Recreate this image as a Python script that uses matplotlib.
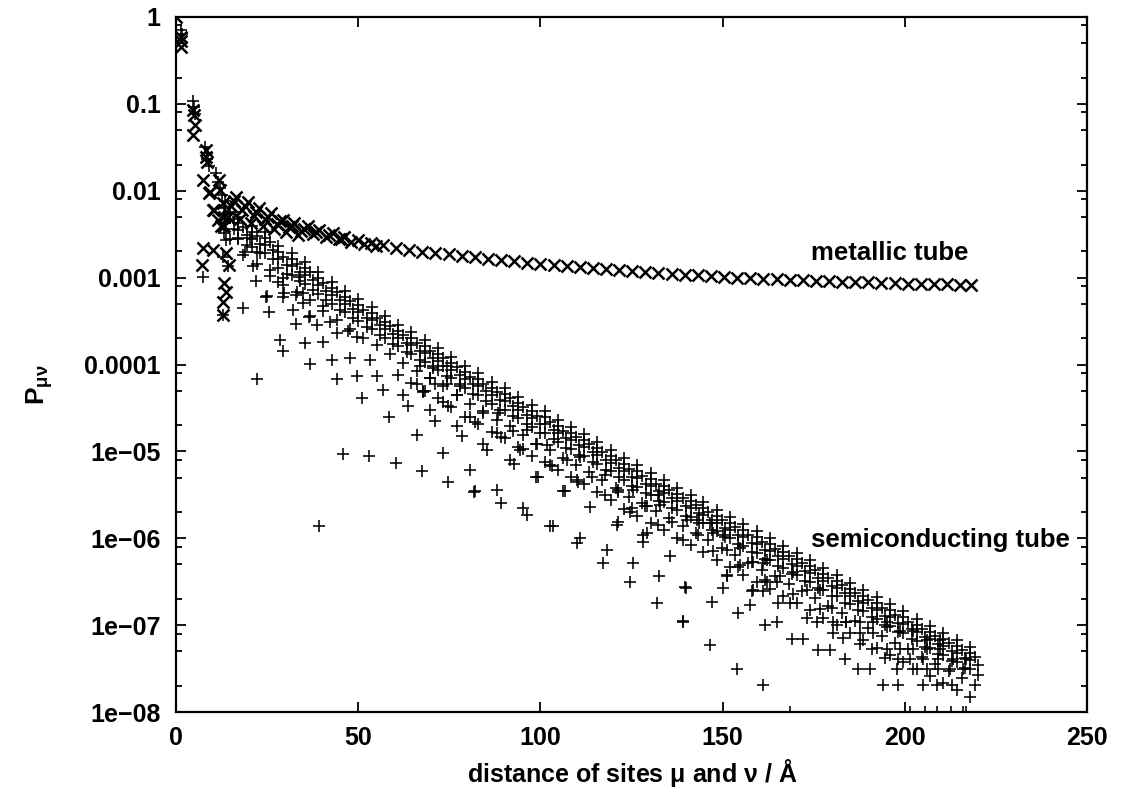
import numpy as np
import matplotlib
matplotlib.use("Agg")
import matplotlib.pyplot as plt
from matplotlib.ticker import FixedLocator, FixedFormatter, LogLocator, NullFormatter

plt.rcParams['font.family'] = ['Liberation Sans', 'DejaVu Sans']
plt.rcParams['font.weight'] = 'bold'
plt.rcParams['mathtext.fontset'] = 'custom'
plt.rcParams['mathtext.rm'] = 'Liberation Sans'
plt.rcParams['mathtext.it'] = 'Liberation Sans'
plt.rcParams['mathtext.bf'] = 'Liberation Sans:bold'

# ---------------- data (log10 of P) ----------------
# semiconducting tube: ring positions and the spike tops
ring_x = [13.5, 17.1, 20.8, 24.4, 28.1, 31.7, 35.4, 39.0, 42.7, 46.4,
          50.0, 53.7, 57.3, 61.0, 64.6, 68.3, 72.0, 75.6, 79.3, 82.9,
          86.6, 90.3, 93.9, 97.6, 101.3, 104.7, 108.3, 112.0, 115.6, 119.3,
          122.9, 126.6, 130.3, 133.9, 137.6, 141.2, 144.7, 148.4, 152.0, 155.7,
          159.4, 163.0, 166.7, 170.3, 174.0, 177.6, 181.3, 184.9, 188.6, 192.3,
          195.9, 199.6, 203.3, 206.9, 210.6, 214.2, 217.9]
ring_xb = [14.9, 18.5, 22.2, 25.8, 29.5, 33.1, 36.8, 40.4, 44.1, 47.8,
           51.4, 55.1, 58.7, 62.4, 66.0, 69.7, 73.4, 77.0, 80.7, 84.3,
           88.0, 91.7, 95.3, 99.0, 102.7, 106.1, 109.7, 113.4, 117.0, 120.7,
           124.3, 128.0, 131.7, 135.3, 139.0, 142.6, 146.1, 149.8, 153.4, 157.1,
           160.8, 164.4, 168.1, 171.7, 175.4, 179.0, 182.7, 186.3, 190.0, 193.7,
           197.3, 201.0, 204.7, 208.3, 212.0, 215.6, 219.3]
ring_xc = [15.8, 19.4, 23.1, 26.7, 30.4, 34.0, 37.7, 41.3, 45.0, 48.7,
           52.3, 56.0, 59.6, 63.3, 66.9, 70.6, 74.3, 77.9, 81.6, 85.2,
           88.9, 92.6, 96.2, 99.9, 103.6, 107.0, 110.6, 114.3, 117.9, 121.6,
           125.2, 128.9, 132.6, 136.2, 139.9, 143.5, 147.0, 150.7, 154.3, 158.0,
           161.7, 165.3, 169.0, 172.6, 176.3, 179.9, 183.6, 187.2, 190.9, 194.6,
           198.2, 201.9, 205.6, 209.2, 212.9, 216.5, 220.2]

semi_top = [-2.12, -2.30, -2.40, -2.47, -2.64, -2.72, -2.82, -2.94, -3.05, -3.15,
            -3.25, -3.34, -3.44, -3.54, -3.63, -3.72, -3.81, -3.91, -4.02, -4.10,
            -4.20, -4.27, -4.37, -4.47, -4.54, -4.64, -4.72, -4.80, -4.89, -4.98,
            -5.08, -5.16, -5.25, -5.33, -5.42, -5.50, -5.58, -5.67, -5.75, -5.84,
            -5.92, -6.00, -6.09, -6.17, -6.25, -6.34, -6.42, -6.51, -6.59, -6.68,
            -6.76, -6.84, -6.93, -7.01, -7.09, -7.17, -7.25]
semi_stack1 = [-2.19, -2.37, -2.47, -2.54, -2.71, -2.79, -2.89, -3.01, -3.12, -3.22,
               -3.32, -3.41, -3.51, -3.61, -3.70, -3.79, -3.88, -3.98, -4.09, -4.17,
               -4.27, -4.34, -4.44, -4.54, -4.61, -4.71, -4.79, -4.87, -4.96, -5.05,
               -5.15, -5.23, -5.32, -5.40, -5.49, -5.57, -5.65, -5.74, -5.82, -5.91,
               -5.99, -6.07, -6.16, -6.24, -6.32, -6.41, -6.49, -6.58, -6.66, -6.75,
               -6.83, -6.91, -7.00, -7.08, -7.16, -7.24, -7.32]
semi_stack2 = [-2.27, -2.45, -2.55, -2.62, -2.79, -2.87, -2.97, -3.09, -3.20, -3.30,
               -3.40, -3.49, -3.59, -3.69, -3.78, -3.87, -3.96, -4.06, -4.17, -4.25,
               -4.35, -4.42, -4.52, -4.62, -4.69, -4.79, -4.87, -4.95, -5.04, -5.13,
               -5.23, -5.31, -5.40, -5.48, -5.57, -5.65, -5.73, -5.82, -5.90, -5.99,
               -6.07, -6.15, -6.24, -6.32, -6.40, -6.49, -6.57, -6.66, -6.74, -6.83,
               -6.91, -6.99, -7.08, -7.16, -7.24, -7.32, -7.40]
semi_stack3 = [-2.37, -2.55, -2.65, -2.72, -2.89, -2.97, -3.07, -3.19, -3.30, -3.40,
               -3.50, -3.59, -3.69, -3.79, -3.88, -3.97, -4.06, -4.16, -4.27, -4.35,
               -4.45, -4.52, -4.62, -4.72, -4.79, -4.89, -4.97, -5.05, -5.14, -5.23,
               -5.33, -5.41, -5.50, -5.58, -5.67, -5.75, -5.83, -5.92, -6.00, -6.09,
               -6.17, -6.25, -6.34, -6.42, -6.50, -6.59, -6.67, -6.76, -6.84, -6.93,
               -7.01, -7.09, -7.18, -7.26, -7.34, -7.42, -7.50]
semi_b1 = [-2.24, -2.42, -2.52, -2.59, -2.76, -2.84, -2.94, -3.06, -3.17, -3.27,
           -3.37, -3.46, -3.56, -3.66, -3.75, -3.84, -3.93, -4.03, -4.14, -4.22,
           -4.32, -4.39, -4.49, -4.59, -4.66, -4.76, -4.84, -4.92, -5.01, -5.10,
           -5.20, -5.28, -5.37, -5.45, -5.54, -5.62, -5.70, -5.79, -5.87, -5.96,
           -6.04, -6.12, -6.21, -6.29, -6.37, -6.46, -6.54, -6.63, -6.71, -6.80,
           -6.88, -6.96, -7.05, -7.13, -7.21, -7.29, -7.37]
semi_d = [-2.56, -2.74, -2.84, -2.91, -3.08, -3.16, -3.26, -3.38, -3.49, -3.59,
          -3.69, -3.78, -3.88, -3.98, -4.07, -4.16, -4.25, -4.35, -4.46, -4.54,
          -4.64, -4.71, -4.81, -4.91, -4.98, -5.08, -5.16, -5.24, -5.33, -5.42,
          -5.52, -5.60, -5.69, -5.77, -5.86, -5.94, -6.02, -6.11, -6.19, -6.28,
          -6.36, -6.44, -6.53, -6.61, -6.69, -6.78, -6.86, -6.95, -7.03, -7.12,
          -7.20, -7.28, -7.37, -7.45, -7.53, -7.61, -7.69]
semi_b2 = [-2.33, -2.51, -2.61, -2.68, -2.85, -2.93, -3.03, -3.15, -3.26, -3.36,
           -3.46, -3.55, -3.65, -3.75, -3.84, -3.93, -4.02, -4.12, -4.23, -4.31,
           -4.41, -4.48, -4.58, -4.68, -4.75, -4.85, -4.93, -5.01, -5.10, -5.19,
           -5.29, -5.37, -5.46, -5.54, -5.63, -5.71, -5.79, -5.88, -5.96, -6.05,
           -6.13, -6.21, -6.30, -6.38, -6.46, -6.55, -6.63, -6.72, -6.80, -6.89,
           -6.97, -7.05, -7.14, -7.22, -7.30, -7.38, -7.46]
semi_c = [-2.44, -2.62, -2.72, -2.79, -2.96, -3.04, -3.14, -3.26, -3.37, -3.47,
          -3.57, -3.66, -3.76, -3.86, -3.95, -4.04, -4.13, -4.23, -4.34, -4.42,
          -4.52, -4.59, -4.69, -4.79, -4.86, -4.96, -5.04, -5.12, -5.21, -5.30,
          -5.40, -5.48, -5.57, -5.65, -5.74, -5.82, -5.90, -5.99, -6.07, -6.16,
          -6.24, -6.32, -6.41, -6.49, -6.57, -6.66, -6.74, -6.83, -6.91, -7.00,
          -7.08, -7.16, -7.25, -7.33, -7.41, -7.49, -7.57]
# deeper row, present from the ring at 61 onwards
semi_e = [-4.12, -4.21, -4.30, -4.39, -4.49, -4.60, -4.68, -4.78, -4.85, -4.95,
          -5.05, -5.12, -5.22, -5.30, -5.38, -5.47, -5.56, -5.66, -5.74, -5.83,
          -5.91, -6.00, -6.08, -6.16, -6.25, -6.33, -6.42, -6.50, -6.58, -6.67,
          -6.75, -6.83, -6.92, -7.00, -7.09, -7.17, -7.26, -7.34, -7.42, -7.51,
          -7.59, -7.67, -7.75, -7.83]

semi_early_x = [0.0, 1.3, 1.6, 4.6, 4.9, 5.2, 7.9, 8.4, 8.6, 9.0, 10.9, 11.6, 12.2,
                12.6, 13.1, 7.3, 12.8, 13.3, 13.7, 12.8, 14.2]
semi_early_logp = [0.0, -0.15, -0.20, -0.97, -1.04, -1.12, -1.50, -1.56, -1.63, -1.72,
                   -1.80, -1.90, -1.97, -2.05, -2.20, -2.99, -3.43, -2.49, -2.57, -2.76, -2.87]

semi_low_a_x = [17.1, 20.3, 18.9, 22.3, 21.2, 25.8, 22.0, 24.9, 29.4, 28.1,
                32.9, 34.9, 29.4, 36.8, 32.9, 25.6, 18.3, 40.4, 42.3, 38.6,
                35.4, 28.5, 29.4, 40.4, 44.1, 47.3, 49.6, 42.7, 47.7, 53.2,
                36.8, 44.1, 49.6, 51.0, 55.1, 56.9, 58.5, 62.4, 63.7, 66.1,
                69.7, 71.1, 77.0, 78.4, 73.4, 22.1, 45.9, 53.0, 60.4, 67.4,
                74.7, 73.4, 39.3, 66.0, 67.9, 74.7, 67.0, 70.6, 69.7, 71.1,
                67.9, 73.4, 74.3, 77.9, 77.0, 33.8, 34.8, 36.6, 32.0, 29.7, 24.7]
semi_low_a_logp = [-2.54, -2.54, -2.70, -2.71, -2.87, -2.98, -3.04, -3.21, -3.01, -3.05,
                   -3.20, -3.29, -3.22, -3.44, -3.53, -3.39, -3.35, -3.33, -3.51, -3.54,
                   -3.75, -3.72, -3.85, -3.74, -3.64, -3.62, -3.68, -3.95, -3.93, -3.95,
                   -3.99, -4.17, -4.13, -4.39, -4.13, -4.29, -4.60, -4.35, -4.48, -4.81,
                   -4.52, -4.65, -4.71, -4.82, -4.43, -4.17, -5.03, -5.05, -5.13, -5.23,
                   -5.35, -5.02, -5.86, -4.22, -4.32, -4.48, -4.02, -4.02, -4.16, -4.23,
                   -4.31, -4.02, -4.22, -4.25, -4.35, -2.99, -3.18, -3.45, -3.37, -3.18, -3.22]

semi_low_b_x = [80.7, 81.8, 84.3, 85.4, 88.0, 89.1, 88.0, 89.1, 91.7, 92.8,
                95.3, 96.4, 95.3, 99.4, 102.6, 103.5, 102.6, 106.3, 110.0, 110.9,
                110.0, 113.6, 117.3, 118.2, 117.7, 120.9, 124.6, 125.3, 125.1, 128.7,
                128.2, 131.9, 132.6, 132.4, 135.6, 136.0, 139.2, 139.9, 139.2, 140.1,
                80.7, 82.1, 84.3, 88.4, 92.6, 94.4, 96.2, 98.9, 98.9, 101.7,
                103.1, 107.2, 110.9, 106.7, 110.4, 114.1, 117.7, 121.4, 125.5, 121.4,
                129.2, 132.8, 129.2, 121.3, 132.3, 124.6, 128.2, 143.0, 146.5, 143.3,
                147.4, 150.1, 147.4, 151.2, 154.8, 151.2, 154.8, 158.3, 162.2, 158.3,
                161.6, 165.7, 169.3, 82.1]
semi_low_b_logp = [-5.22, -5.47, -4.91, -4.98, -5.44, -5.60, -4.79, -4.84, -5.10, -5.14,
                   -5.65, -5.73, -4.97, -5.29, -5.86, -5.86, -5.16, -5.46, -6.06, -6.00,
                   -5.33, -5.64, -6.29, -6.14, -5.50, -5.85, -6.50, -6.28, -5.65, -5.63,
                   -5.96, -6.74, -6.43, -5.85, -6.21, -5.81, -6.95, -6.57, -6.02, -5.79,
                   -4.60, -4.66, -4.56, -4.56, -4.77, -4.98, -4.75, -5.29, -4.91, -4.93,
                   -5.17, -5.10, -5.06, -5.46, -5.35, -5.29, -5.27, -5.44, -5.44, -5.81,
                   -5.63, -5.62, -5.94, -5.47, -5.50, -5.70, -6.04, -5.79, -5.82, -5.96,
                   -5.94, -5.96, -6.15, -6.13, -6.11, -6.44, -6.31, -6.27, -6.25, -6.59,
                   -6.48, -6.44, -6.39, -5.46]

semi_low_c_x = [146.5, 153.9, 161.2, 139.2, 139.7, 147.0, 150.2, 154.3, 157.5, 161.6,
                164.8, 169.0, 172.2, 176.3, 179.5, 183.6, 187.2, 190.4, 194.1, 198.2,
                205.1, 208.8, 212.9, 151.1, 154.3, 158.0, 161.2, 165.3, 168.5, 158.0,
                161.2, 162.1, 164.8, 169.4, 173.1, 176.8, 173.1, 175.8, 180.4, 183.1,
                187.7, 190.9, 195.0, 198.7, 202.3, 206.0, 209.7, 213.3, 216.9, 198.2,
                201.4, 205.1, 209.2, 197.8, 202.3, 206.0, 209.2, 212.4, 216.1, 187.7,
                191.4, 195.0, 180.4, 184.0, 176.7, 180.0, 194.6, 184.0, 187.7, 191.4,
                195.0, 198.7, 202.3, 206.0, 209.7, 168.5, 201.4, 205.5, 208.8, 212.6,
                216.1, 216.9]
semi_low_c_logp = [-7.23, -7.51, -7.69, -6.96, -6.56, -6.73, -6.57, -6.86, -6.77, -7.00,
                   -6.96, -7.16, -7.16, -7.29, -7.29, -7.39, -7.51, -7.51, -7.69, -7.69,
                   -7.69, -7.69, -7.69, -6.42, -6.33, -6.27, -6.29, -6.74, -6.74, -6.61,
                   -6.61, -6.50, -6.50, -6.64, -6.60, -6.60, -6.92, -6.96, -7.09, -7.15,
                   -7.22, -7.28, -7.28, -7.28, -7.28, -7.28, -7.28, -7.39, -7.39, -7.39,
                   -7.39, -7.39, -7.39, -7.51, -7.51, -7.51, -7.51, -7.51, -7.51, -7.09,
                   -7.09, -7.02, -6.96, -6.96, -6.82, -6.80, -7.38, -6.96, -6.96, -6.96,
                   -6.96, -7.07, -7.07, -7.17, -7.17, -8.00, -8.00, -8.00, -8.00, -8.00,
                   -8.00, -8.00]

# metallic tube
met_early_x = [0.0, 1.3, 1.4, 1.3, 4.8, 5.0, 5.2, 4.8, 8.1, 8.3,
               8.5, 7.5, 9.2, 10.1, 11.9, 12.0, 12.8, 13.3, 13.3, 7.5,
               7.0, 10.2, 13.3, 13.6, 12.8, 12.8, 14.6, 13.7, 9.1, 10.5, 11.4, 12.3]
met_early_logp = [0.0, -0.23, -0.28, -0.34, -1.07, -1.13, -1.24, -1.36, -1.53, -1.61,
                  -1.67, -1.88, -2.01, -2.22, -1.88, -1.99, -2.14, -2.30, -2.41, -2.66,
                  -2.85, -2.68, -3.06, -3.16, -3.28, -3.43, -2.85, -2.72, -2.03, -2.22,
                  -2.34, -2.41]
met_chain_x = [16.5, 19.7, 22.9, 26.1, 29.3, 32.5, 36.1, 39.3, 43.0, 46.2,
               49.9, 53.5, 56.7, 60.4, 64.0, 67.6, 71.2, 74.8, 78.4, 82.0,
               85.6, 89.2, 92.8, 96.4, 100.0, 103.6, 107.2, 110.8, 114.4, 118.0,
               121.6, 125.2, 128.8, 132.4, 136.0, 139.6, 143.2, 146.8, 150.4, 154.0,
               157.6, 161.2, 164.8, 168.4, 172.0, 175.6, 179.2, 182.8, 186.4, 190.0,
               193.6, 197.2, 200.8, 204.4, 208.0, 211.6, 215.2, 218.2]
met_chain_logp = [-2.07, -2.13, -2.20, -2.26, -2.34, -2.37, -2.41, -2.45, -2.49, -2.53,
                  -2.57, -2.60, -2.62, -2.66, -2.68, -2.70, -2.72, -2.73, -2.75, -2.76,
                  -2.78, -2.80, -2.81, -2.83, -2.84, -2.86, -2.87, -2.88, -2.89, -2.90,
                  -2.915, -2.925, -2.935, -2.945, -2.955, -2.965, -2.975, -2.985, -2.995, -3.00,
                  -3.01, -3.015, -3.02, -3.025, -3.03, -3.035, -3.04, -3.045, -3.05, -3.055,
                  -3.06, -3.065, -3.07, -3.072, -3.075, -3.078, -3.08, -3.084]
met_band_x = [15.0, 18.1, 21.3, 24.5, 27.7, 30.9, 34.3, 37.7, 41.1, 44.6, 48.0,
              14.2, 17.5, 20.6, 23.8, 27.0, 30.2, 33.5,
              16.0, 19.0, 22.0, 25.2, 28.5, 31.8, 35.2, 38.5, 42.0, 45.4, 51.5, 55.0]
met_band_logp = [-2.17, -2.22, -2.29, -2.33, -2.38, -2.42, -2.46, -2.50, -2.53, -2.56, -2.59,
                 -2.30, -2.33, -2.37, -2.41, -2.44, -2.48, -2.51,
                 -2.12, -2.18, -2.24, -2.30, -2.35, -2.40, -2.44, -2.47, -2.51, -2.55,
                 -2.61, -2.64]

y_major = [1e-8, 1e-7, 1e-6, 1e-5, 1e-4, 1e-3, 1e-2, 1e-1, 1]
y_labels = ['1e\u221208', '1e\u221207', '1e\u221206', '1e\u221205', '0.0001',
            '0.001', '0.01', '0.1', '1']
x_major = [0, 50, 100, 150, 200, 250]

# ---------------- figure ----------------
W, H = 1125, 794
fig = plt.figure(figsize=(W / 100, H / 100), dpi=100)
ax = fig.add_axes([176 / W, 1 - 712 / H, (1087 - 176) / W, (712 - 17) / H])

plus_kw = dict(ls='none', marker='+', ms=8, mew=1.15, color='black')
x_kw = dict(ls='none', marker='x', ms=9, mew=1.8, color='black')


def draw(xs, logp, kw):
    xs = np.asarray(xs, dtype=float)
    lp = np.asarray(logp, dtype=float)
    assert xs.shape == lp.shape, (xs.shape, lp.shape)
    ax.plot(xs, np.power(10.0, lp), **kw)


# semiconducting (+)
for xs, lp in [(ring_x, semi_top), (ring_x, semi_stack1), (ring_x, semi_stack2),
               (ring_x, semi_stack3), (ring_xb, semi_b1), (ring_xb, semi_d),
               (ring_xc, semi_b2), (ring_xc, semi_c), (ring_x[13:], semi_e),
               (semi_early_x, semi_early_logp), (semi_low_a_x, semi_low_a_logp),
               (semi_low_b_x, semi_low_b_logp), (semi_low_c_x, semi_low_c_logp)]:
    draw(xs, lp, plus_kw)

# metallic (x)
for xs, lp in [(met_early_x, met_early_logp), (met_chain_x, met_chain_logp),
               (met_band_x, met_band_logp)]:
    draw(xs, lp, x_kw)

ax.set_yscale('log')
ax.set_xlim(0, 250)
ax.set_ylim(1e-8, 1)
ax.yaxis.set_major_locator(FixedLocator(y_major))
ax.yaxis.set_major_formatter(FixedFormatter(y_labels))
ax.yaxis.set_minor_locator(LogLocator(base=10, subs=(2.0, 5.0, 8.0), numticks=20))
ax.yaxis.set_minor_formatter(NullFormatter())
ax.xaxis.set_major_locator(FixedLocator(x_major))
ax.set_xticklabels([str(v) for v in x_major])

ax.tick_params(which='both', direction='in', top=True, right=True, width=1.3,
               labelsize=18, colors='black')
ax.tick_params(which='major', length=7)
ax.tick_params(which='minor', length=4)
ax.tick_params(axis='y', pad=11)
ax.tick_params(axis='x', pad=10)
for lab in ax.get_xticklabels() + ax.get_yticklabels():
    lab.set_fontweight('bold')
for sp in ax.spines.values():
    sp.set_linewidth(1.6)

ax.text(217.5, 10 ** -2.72, 'metallic tube', ha='right', va='center',
        fontsize=18.5, fontweight='bold')
ax.text(245.3, 10 ** -6.02, 'semiconducting tube', ha='right', va='center',
        fontsize=18.5, fontweight='bold')

fig.text(632 / W, 1 - 773 / H, 'distance of sites $\\mu$ and $\\nu$ / \u00c5',
         ha='center', va='center', fontsize=18, fontweight='bold')
fig.text(40 / W, 1 - 385 / H, '$\\mathbf{P}_{\\mu\\nu}$', ha='center', va='center',
         rotation=90, fontsize=19)

fig.savefig('out.png', dpi=100)
